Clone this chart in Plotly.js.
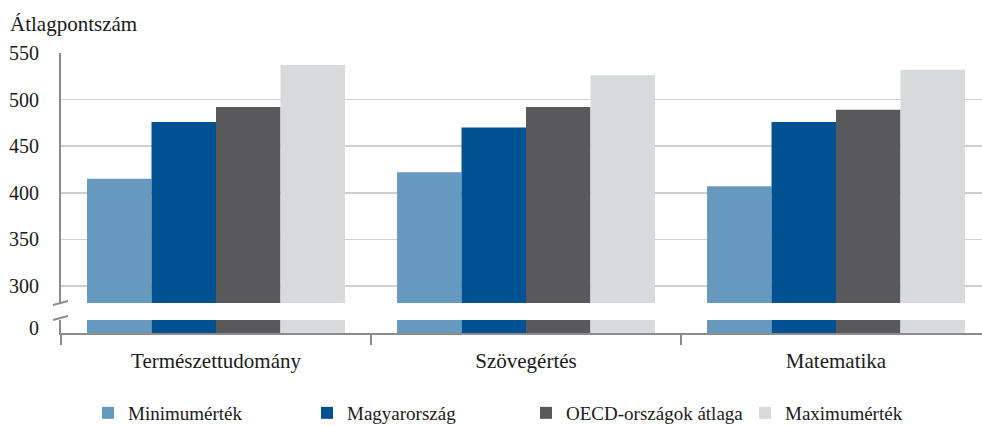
<!DOCTYPE html>
<html>
<head>
<meta charset="utf-8">
<script src="https://cdn.plot.ly/plotly-3.0.1.min.js"></script>
<style>html,body{margin:0;padding:0;background:#fff;}#chart{width:982px;height:426px;}</style>
</head>
<body>
<div id="chart"></div>
<script>
const categories = ['Természettudomány', 'Szövegértés', 'Matematika'];
const seriesNames = ['Minimumérték', 'Magyarország', 'OECD-országok átlaga', 'Maximumérték'];
const minimum = [415, 422, 407];
const magyar = [476, 470, 476];
const oecd = [492, 492, 489];
const maximum = [537, 526, 532];
const upperTicks = [300, 350, 400, 450, 500, 550];
const lowerTicks = [0];

const colors = ['#6798be', '#005192', '#59595b', '#d9dadc'];
const values = [minimum, magyar, oecd, maximum];

const W = 982, H = 426;
const L = 61, T = 53, B = 93;
const plotW = W - L, plotH = H - T - B;
const px2x = p => (p - L) / plotW;
const py2y = p => (H - B - p) / plotH;

const traces = [];
values.forEach((v, i) => {
  traces.push({
    type: 'bar', x: categories, y: v, name: seriesNames[i],
    marker: {color: colors[i], line: {width: 0}},
    xaxis: 'x', yaxis: 'y', legendgroup: 'g' + i, hoverinfo: 'y'
  });
});
values.forEach((v, i) => {
  traces.push({
    type: 'bar', x: categories, y: v, name: seriesNames[i],
    marker: {color: colors[i], line: {width: 0}},
    xaxis: 'x', yaxis: 'y2', legendgroup: 'g' + i, showlegend: false, hoverinfo: 'y'
  });
});

const font = {family: 'Liberation Serif, Times New Roman, serif', color: '#1a1a1a'};
const axisGrey = '#8c8c8c';

const layout = {
  width: W, height: H,
  margin: {l: L, r: 0, t: T, b: B, pad: 0},
  paper_bgcolor: '#fff', plot_bgcolor: '#fff',
  font: Object.assign({size: 20}, font),
  barmode: 'group', bargap: 0.168, bargroupgap: 0,
  title: {text: 'Átlagpontszám', x: 10 / W, xanchor: 'left', xref: 'container',
          y: 1 - 24 / H, yanchor: 'middle', yref: 'container',
          font: Object.assign({size: 21}, font)},
  xaxis: {
    type: 'category', anchor: 'y2', range: [-0.5, -0.5 + plotW / 310],
    showline: true, linecolor: axisGrey, linewidth: 2,
    ticks: 'outside', tickson: 'boundaries', ticklen: 10, tickwidth: 2, tickcolor: axisGrey,
    showgrid: false, tickfont: Object.assign({size: 21}, font), ticklabelstandoff: 8
  },
  yaxis: {
    domain: [py2y(303), 1], range: [281.8, 550],
    tickvals: upperTicks, ticktext: upperTicks.map(String),
    showline: true, linecolor: axisGrey, linewidth: 2,
    showgrid: true, gridcolor: '#cfcfcf', gridwidth: 1.5,
    zeroline: false, ticks: '', ticklabelstandoff: 16,
    tickfont: Object.assign({size: 20}, font)
  },
  yaxis2: {
    domain: [0, py2y(320)], range: [0, 10],
    tickvals: lowerTicks, ticktext: lowerTicks.map(String),
    showline: true, linecolor: axisGrey, linewidth: 2,
    showgrid: false, zeroline: false, ticks: '', ticklabelstandoff: 16, ticklabelshift: -5,
    tickfont: Object.assign({size: 20}, font)
  },
  showlegend: true,
  legend: {
    orientation: 'h', xref: 'container', yref: 'container',
    x: 88 / W, xanchor: 'left', y: 1 - 413 / H, yanchor: 'middle',
    font: Object.assign({size: 19}, font), traceorder: 'normal',
    entrywidth: 174, entrywidthmode: 'pixels', itemwidth: 30
  },
  shapes: [
    {type: 'line', xref: 'paper', yref: 'paper', x0: px2x(53), y0: py2y(305), x1: px2x(68), y1: py2y(301),
     line: {color: axisGrey, width: 2}},
    {type: 'line', xref: 'paper', yref: 'paper', x0: px2x(53), y0: py2y(320), x1: px2x(68), y1: py2y(316),
     line: {color: axisGrey, width: 2}}
  ]
};

Plotly.newPlot('chart', traces, layout, {displayModeBar: false, staticPlot: true});
</script>
</body>
</html>
